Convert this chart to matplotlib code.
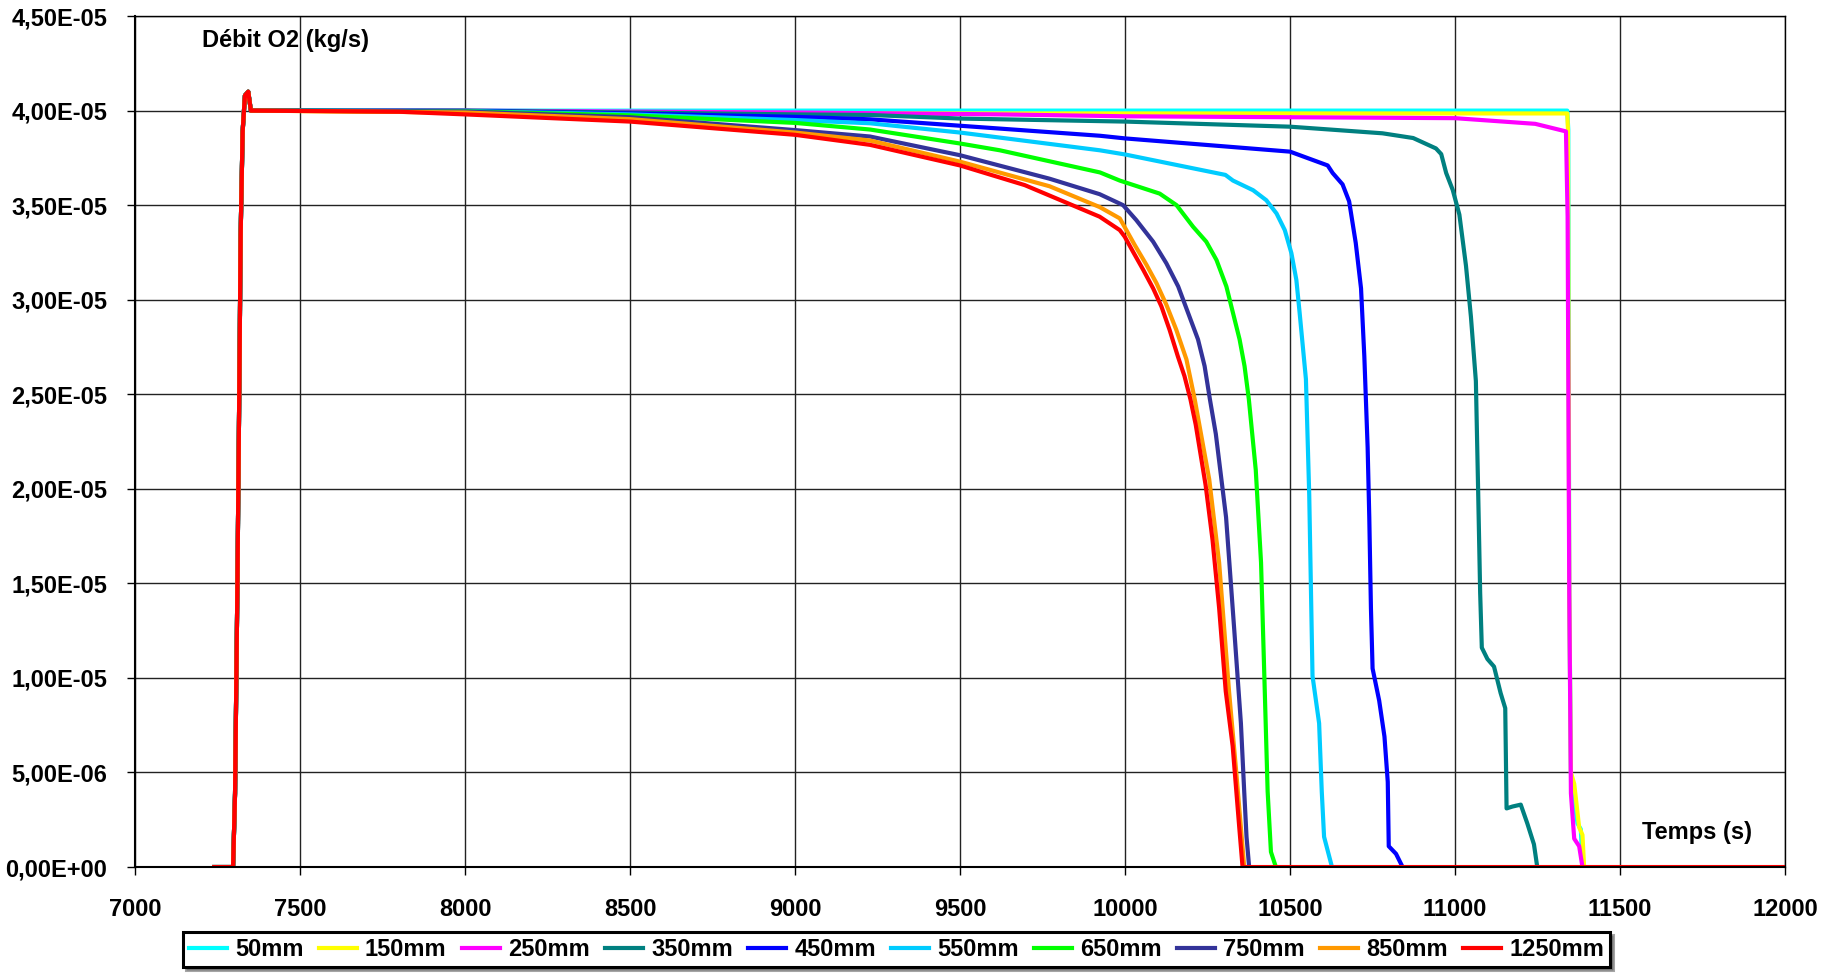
from matplotlib import pyplot
import matplotlib.ticker as ticker
import numpy

pyplot.rcParams['font.family'] = ['Liberation Sans', 'DejaVu Sans']
pyplot.rcParams['font.weight'] = 'bold'

# débit en unités de 1E-05 kg/s
# montée commune à toutes les courbes
t_start = [7240, 7297, 7303, 7310, 7316, 7320, 7326, 7333, 7343, 7351, 7360]
q_start = [0, 0, 0.39, 1.47, 2.55, 3.35, 3.89, 4.08, 4.10, 4.0, 4.0]

t_50 = [8000, 9000, 10000, 11000, 11340, 11343, 11346, 11351, 11361, 11371, 11381, 11386]
q_50 = [4.0, 4.0, 4.0, 4.0, 4.0, 3.9, 1.45, 0.5, 0.35, 0.23, 0.20, 0]

t_150 = [8000, 9000, 10000, 11000, 11340, 11342, 11346, 11351, 11361, 11376, 11386, 11391]
q_150 = [3.99, 3.985, 3.985, 3.985, 3.985, 3.9, 1.45, 0.5, 0.44, 0.21, 0.17, 0]

t_250 = [8000, 8500, 9000, 9621, 10000, 10500, 11000, 11243, 11336, 11341, 11346, 11351, 11361, 11376, 11386]
q_250 = [4.0, 3.995, 3.99, 3.98, 3.97, 3.965, 3.96, 3.93, 3.89, 3.44, 1.45, 0.39, 0.15, 0.11, 0]

t_350 = [8000, 8500, 9000, 9227, 9500, 10000, 10500, 10780, 10873, 10942, 10958, 10973, 10993, 11013,
         11033, 11048, 11063, 11070, 11076, 11081, 11098, 11118, 11138, 11152, 11156, 11174,
         11199, 11219, 11239, 11249]
q_350 = [4.0, 3.99, 3.98, 3.977, 3.958, 3.942, 3.915, 3.88, 3.855, 3.80, 3.77, 3.67, 3.58, 3.45,
         3.18, 2.91, 2.57, 1.98, 1.45, 1.16, 1.10, 1.06, 0.92, 0.84, 0.31, 0.32,
         0.33, 0.23, 0.12, 0]

t_450 = [8000, 8500, 9000, 9227, 9500, 9924, 10000, 10500, 10614, 10629, 10659, 10679, 10699, 10715,
         10725, 10735, 10740, 10745, 10750, 10770, 10786, 10796, 10799, 10821, 10841]
q_450 = [3.998, 3.985, 3.967, 3.954, 3.92, 3.867, 3.853, 3.783, 3.71, 3.67, 3.61, 3.52, 3.30, 3.06,
         2.70, 2.22, 1.85, 1.37, 1.05, 0.88, 0.69, 0.45, 0.11, 0.07, 0]

t_550 = [8000, 8500, 9000, 9227, 9500, 9924, 10000, 10304, 10327, 10388, 10428, 10459, 10484, 10504,
         10519, 10529, 10548, 10558, 10568, 10588, 10596, 10603, 10627]
q_550 = [3.997, 3.98, 3.95, 3.933, 3.884, 3.79, 3.768, 3.66, 3.63, 3.579, 3.526, 3.456, 3.368, 3.246,
         3.105, 2.93, 2.58, 1.97, 1.01, 0.76, 0.40, 0.16, 0]

t_650 = [8000, 8500, 9000, 9227, 9500, 9621, 9924, 9984, 10105, 10156, 10206, 10246, 10277, 10307,
         10327, 10347, 10362, 10375, 10396, 10412, 10422, 10432, 10442, 10457]
q_650 = [3.996, 3.975, 3.935, 3.90, 3.826, 3.79, 3.673, 3.63, 3.561, 3.5, 3.386, 3.307, 3.21, 3.07,
         2.93, 2.79, 2.649, 2.474, 2.10, 1.61, 1.01, 0.40, 0.08, 0]

t_750 = [8000, 8500, 9000, 9227, 9500, 9771, 9923, 9994, 10034, 10085, 10125, 10161, 10191, 10221,
         10241, 10257, 10275, 10306, 10331, 10351, 10361, 10368, 10376]
q_750 = [3.995, 3.965, 3.897, 3.863, 3.764, 3.64, 3.558, 3.5, 3.421, 3.307, 3.193, 3.07, 2.93, 2.79,
         2.649, 2.474, 2.29, 1.85, 1.25, 0.76, 0.40, 0.16, 0]

t_850 = [8000, 8500, 9000, 9227, 9500, 9771, 9923, 9984, 10004, 10029, 10065, 10095, 10125, 10155,
         10186, 10211, 10255, 10285, 10315, 10336, 10361]
q_850 = [3.99, 3.955, 3.884, 3.842, 3.73, 3.60, 3.49, 3.43, 3.368, 3.29, 3.184, 3.088, 2.974, 2.842,
         2.684, 2.474, 2.05, 1.61, 0.93, 0.52, 0]

t_1250 = [7801, 8000, 8500, 9000, 9227, 9500, 9696, 9923, 9984, 9999, 10024, 10055, 10085, 10110,
          10135, 10160, 10180, 10198, 10214, 10244, 10265, 10285, 10305, 10326, 10346, 10356, 12000]
q_1250 = [3.994, 3.98, 3.942, 3.872, 3.819, 3.71, 3.606, 3.439, 3.368, 3.333, 3.254, 3.158, 3.06, 2.965,
          2.84, 2.70, 2.596, 2.474, 2.34, 2.02, 1.73, 1.37, 0.93, 0.64, 0.21, 0, 0]

labels = ['50mm', '150mm', '250mm', '350mm', '450mm', '550mm', '650mm', '750mm', '850mm', '1250mm']
colors = ['#00FFFF', '#FFFF00', '#FF00FF', '#008080', '#0000FF', '#00CCFF', '#00FF00', '#333399', '#FF9900', '#FF0000']
series_t = [t_50, t_150, t_250, t_350, t_450, t_550, t_650, t_750, t_850, t_1250]
series_q = [q_50, q_150, q_250, q_350, q_450, q_550, q_650, q_750, q_850, q_1250]

fig = pyplot.figure(figsize=(18.35, 9.73), dpi=100)
ax = fig.add_axes([0.0736, 0.1089, 0.8992, 0.8746])

for i in range(len(labels)):
    x = numpy.array(t_start + series_t[i])
    y = numpy.array(q_start + series_q[i]) * 1e-5
    ax.plot(x, y, color=colors[i], linewidth=3.0, label=labels[i], solid_joinstyle='round')

ax.set_xlim(7000, 12000)
ax.set_ylim(0, 4.5e-5)
ax.xaxis.set_major_locator(ticker.MultipleLocator(500))
ax.yaxis.set_major_locator(ticker.MultipleLocator(5e-6))
ax.yaxis.set_major_formatter(ticker.FuncFormatter(lambda v, p: ('%.2E' % v).replace('.', ',')))

ax.grid(which='major', color='#222222', linewidth=1.0)
ax.set_axisbelow(True)
for s in ax.spines.values():
    s.set_color('black')
    s.set_linewidth(1.0)
ax.spines['left'].set_linewidth(1.5)
ax.spines['bottom'].set_linewidth(1.5)

ax.tick_params(axis='both', which='major', labelsize=17, direction='out', length=6, width=1)
ax.tick_params(axis='x', pad=16)
ax.tick_params(axis='y', pad=14)

# titres des axes dans le graphique
fig.text(0.110, 0.958, 'Débit O2 (kg/s)', fontsize=17, fontweight='bold', va='center', ha='left')
fig.text(0.8948, 0.1439, 'Temps (s)', fontsize=17, fontweight='bold', va='center', ha='left')

leg = fig.legend(loc='center', bbox_to_anchor=(0.4886, 0.0242), ncol=10, fontsize=17,
                 handlelength=1.6, handletextpad=0.35, columnspacing=0.65, borderpad=0.25,
                 fancybox=False, shadow=True, framealpha=1)
leg.get_frame().set_edgecolor('black')
leg.get_frame().set_linewidth(2.2)
for line in leg.get_lines():
    line.set_linewidth(3.0)

fig.savefig('out.png')
